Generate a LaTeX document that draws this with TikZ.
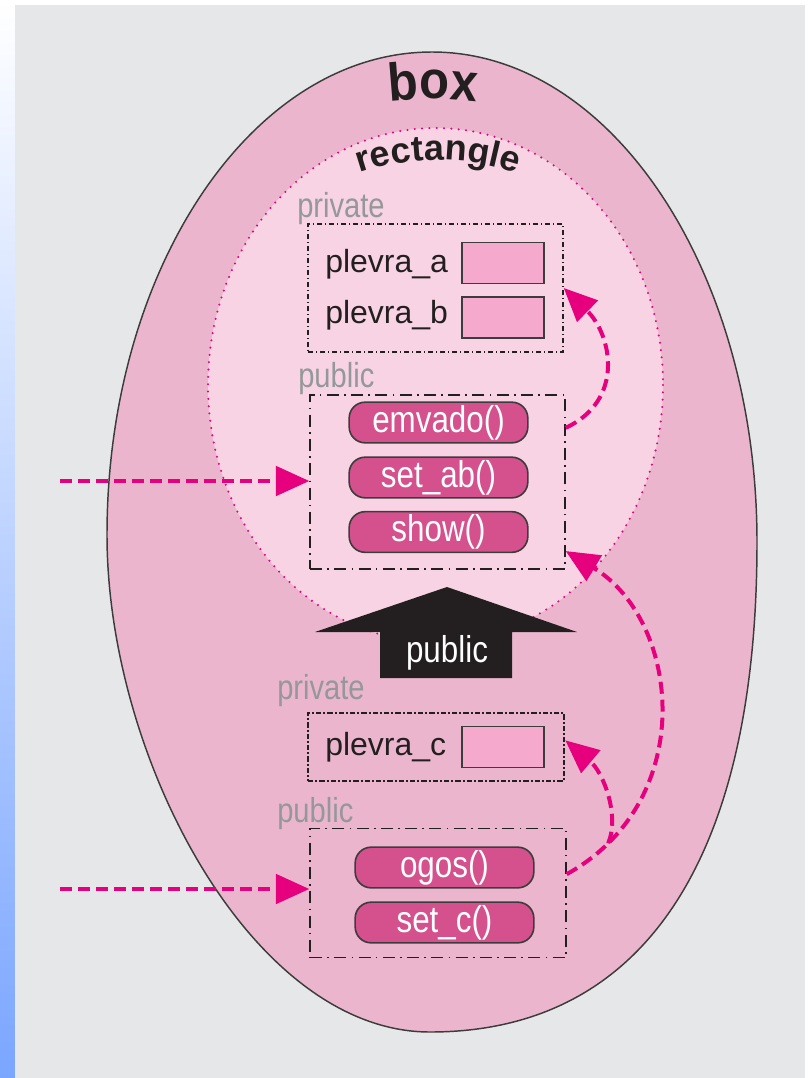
\documentclass[tikz,border=0pt]{standalone}
\usepackage{fontspec}
\setmainfont{Liberation Sans}
\newfontfamily\cnd[FakeStretch=0.84]{Liberation Sans}
\newfontfamily\wide[FakeStretch=0.92]{Liberation Sans}
\usetikzlibrary{arrows.meta,decorations.text}

\definecolor{bggray}{HTML}{E6E7E8}
\definecolor{stripblue}{HTML}{7BA6FF}
\definecolor{outerpink}{HTML}{EBB6CD}
\definecolor{innerpink}{HTML}{F8D3E3}
\definecolor{methodpink}{HTML}{D5518D}
\definecolor{fieldpink}{HTML}{F5AACD}
\definecolor{linkmag}{HTML}{E6007E}
\definecolor{labelgray}{HTML}{95989A}
\definecolor{ink}{HTML}{231F20}
\definecolor{edgegray}{HTML}{3C3C3C}

\begin{document}
\begin{tikzpicture}[x=0.75pt,y=-0.75pt,
  grouplbl/.style={text=labelgray, font=\cnd\fontsize{26}{30}\selectfont, inner sep=0, anchor=base west},
  fieldlbl/.style={text=ink, font=\fontsize{24}{28}\selectfont, inner sep=0, anchor=base west},
  field/.style={draw=edgegray, fill=fieldpink, line width=1.2pt, minimum width=61.5pt, minimum height=31pt, inner sep=0},
  method/.style={draw=edgegray, fill=methodpink, line width=1.2pt, rounded corners=12pt,
    minimum width=134pt, minimum height=30.5pt, inner sep=0, text=white,
    font=\cnd\fontsize{28}{30}\selectfont},
  privgroup/.style={draw=ink, line width=1.1pt, dash pattern=on 4pt off 2pt on 1pt off 2pt, inner sep=0},
  pubgroup/.style={draw=ink, line width=1.1pt, dash pattern=on 9pt off 4pt on 1.2pt off 4pt, inner sep=0},
  link/.style={draw=linkmag, line width=3pt, dash pattern=on 9pt off 4.5pt,
    -{Triangle[length=25pt,width=22pt]}}
]
\useasboundingbox (0,0) rectangle (807,1078);

% page background
\fill[white] (0,0) rectangle (807,1078);
\shade[top color=white, bottom color=stripblue] (0,0) rectangle (15,1078);
\fill[bggray] (15,5) rectangle (805,1078);

% outer class: box
\draw[fill=outerpink, draw=edgegray, line width=1.1pt]
  (432,52) .. controls (611.5,52) and (757,271.4) .. (757,542)
  .. controls (757,860) and (643,1032) .. (430,1032)
  .. controls (251.6,1032) and (107,757.5) .. (107,535)
  .. controls (107,268.2) and (252.5,52) .. (432,52) -- cycle;

% inner class: rectangle
\draw[fill=innerpink, draw=linkmag, line width=1.7pt, line cap=round, dash pattern=on 0pt off 5.5pt]
  (435.5,385) ellipse [x radius=227.5, y radius=257];

% curved class names
\path[decorate, decoration={text along path, text align=center, text color=ink,
  text={|\wide\bfseries\fontsize{40}{44}\selectfont|box}}]
  (433,449) ++(250:350) arc[start angle=250, end angle=290, radius=350];
\path[decorate, decoration={text along path, text align=center, text color=ink,
  text={|\bfseries\fontsize{27}{30}\selectfont|rectangle}}]
  (438,403) ++(240:243) arc[start angle=240, end angle=300, radius=243];

% rectangle: private members
\node[grouplbl] (tPrivA) at (297,217) {private};
\node[privgroup, minimum width=191.25pt, minimum height=96pt] (privA) at (435.5,288) {};
\node[fieldlbl] (labA) at (325,272) {plevra\_a};
\node[field] (fieldA) at (503,263) {};
\node[fieldlbl] (labB) at (325,323) {plevra\_b};
\node[field] (fieldB) at (503,317.5) {};

% rectangle: public members
\node[grouplbl] (tPubA) at (298,387) {public};
\node[pubgroup, minimum width=191.25pt, minimum height=130.5pt] (pubA) at (437.5,482) {};
\node[method] (emvado) at (438.5,422.5) {emvado()};
\node[method] (setab) at (438.5,477.5) {set\_ab()};
\node[method] (show) at (438.5,532) {show()};

% public inheritance arrow
\fill[ink] (447,587) -- (577,632) -- (512,632) -- (512,678) -- (380,678) -- (380,632) -- (315,632) -- cycle;
\node[text=white, font=\cnd\fontsize{28}{30}\selectfont, anchor=base, inner sep=0] (inh) at (447,662) {public};

% box: private members
\node[grouplbl] (tPrivC) at (277,699) {private};
\node[draw=ink, line width=2pt, dash pattern=on 4pt off 1.5pt on 1.5pt off 1.5pt, inner sep=0,
  minimum width=192pt, minimum height=51pt] (privC) at (436,747) {};
\node[fieldlbl] (labC) at (325,755) {plevra\_c};
\node[field] (fieldC) at (503,747) {};

% box: public members
\node[grouplbl] (tPubC) at (277,822) {public};
\node[pubgroup, minimum width=192pt, minimum height=96.75pt] (pubC) at (438,893) {};
\node[method] (ogos) at (444.5,867.5) {ogos()};
\node[method] (setc) at (444.5,922.5) {set\_c()};

% outside callers
\coordinate (callA) at (60,481);
\coordinate (callC) at (60,889);
\draw[link] (callA) -- (callA -| pubA.west);
\draw[link] (callC) -- (callC -| pubC.west);

% member access paths
\draw[link] ([yshift=-4pt]pubA.east |- emvado) .. controls (625,400) and (612,335) .. (privA.east);
\draw[link] ([yshift=-5pt]pubC.east |- ogos) .. controls (700,800) and (680,620) ..
  coordinate[pos=0.12] (split) ([yshift=14pt]pubA.south east);
\draw[link] (split) .. controls (620,815) and (603,772) .. ([yshift=5pt]privC.east);
\end{tikzpicture}
\end{document}
